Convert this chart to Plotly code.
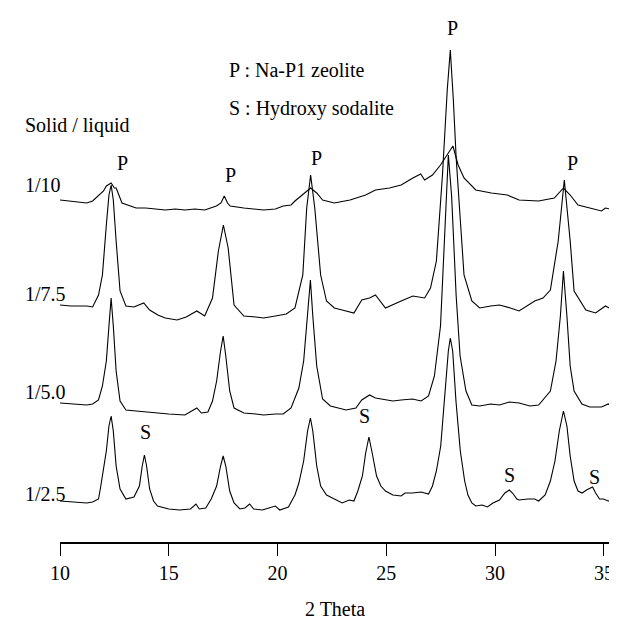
import plotly.graph_objects as go

# ---- data (2 Theta, intensity a.u. above each pattern's own baseline) ----
x_110 = [10.0, 10.5, 11.0, 11.23, 11.5, 11.77, 12.0, 12.13, 12.35, 12.5, 12.58, 12.85, 13.22, 13.5, 13.94, 14.3,
         14.84, 15.3, 15.74, 16.2, 16.65, 17.19, 17.4, 17.55, 17.7, 17.82, 18.45, 19.36, 19.9, 20.26, 20.62, 20.8,
         21.25, 21.52, 21.8, 22.07, 22.61, 23.33, 24.05, 24.5, 25.14, 25.68, 26.22, 26.58, 26.76, 27.12, 27.49,
         27.76, 28.06, 28.3, 28.57, 29.11, 29.83, 30.56, 31.1, 32.0, 32.72, 33.14, 33.45, 33.81, 34.35, 34.89,
         35.07, 35.52]
y_110 = [13, 12, 11, 10, 12, 17, 22, 27, 30, 25, 25, 10, 7, 5, 5, 4,
         3, 4, 3, 4, 3, 7, 10, 17, 10, 7, 5, 3, 4, 7, 8, 12,
         20, 25, 20, 13, 10, 13, 18, 23, 25, 28, 35, 39, 33, 38, 48,
         57, 67, 48, 35, 23, 20, 18, 13, 12, 15, 25, 18, 8, 5, 2,
         5, 3]

x_175 = [10.0, 10.5, 11.23, 11.5, 11.77, 11.95, 12.13, 12.25, 12.35, 12.45, 12.58, 12.76, 13.03, 13.4, 13.85, 14.12,
         14.5, 14.84, 15.38, 15.8, 16.29, 16.65, 17.01, 17.28, 17.51, 17.73, 18.0, 18.45, 19.0, 19.36, 19.9, 20.4,
         20.8, 21.16, 21.34, 21.52, 21.71, 21.98, 22.25, 22.61, 22.97, 23.51, 23.87, 24.23, 24.5, 24.96, 25.68,
         26.22, 26.76, 27.03, 27.3, 27.58, 27.8, 27.94, 28.08, 28.21, 28.4, 28.57, 28.93, 29.29, 29.8, 30.2, 30.7,
         31.1, 31.82, 32.2, 32.54, 32.9, 33.18, 33.45, 33.63, 34.0, 34.17, 34.62, 35.07, 35.52]
y_175 = [15, 14, 14, 13, 25, 45, 95, 125, 135, 120, 79, 29, 14, 13, 17, 10,
         5, 2, 0, 3, 9, 4, 22, 69, 95, 72, 15, 4, 3, 2, 4, 6,
         12, 45, 112, 145, 112, 45, 19, 12, 10, 7, 20, 22, 25, 12, 19,
         24, 22, 32, 59, 145, 230, 270, 220, 162, 100, 45, 19, 12, 14, 15, 12,
         9, 19, 22, 30, 79, 140, 79, 29, 15, 10, 7, 14, 9]

x_150 = [10.0, 10.5, 11.0, 11.23, 11.5, 11.77, 11.95, 12.13, 12.25, 12.35, 12.45, 12.58, 12.76, 13.03, 13.5, 13.94,
         14.5, 15.0, 15.74, 16.29, 16.5, 16.8, 17.01, 17.2, 17.38, 17.5, 17.62, 17.8, 18.0, 18.45, 19.0, 19.36,
         19.9, 20.26, 20.62, 20.98, 21.2, 21.38, 21.51, 21.62, 21.8, 22.07, 22.43, 23.15, 23.6, 23.87, 24.23,
         24.5, 24.96, 25.3, 25.68, 26.2, 26.6, 26.94, 27.21, 27.49, 27.7, 27.85, 28.0, 28.21, 28.39, 28.66, 28.93,
         29.29, 29.8, 30.2, 30.65, 31.1, 31.6, 32.0, 32.54, 32.8, 33.0, 33.14, 33.3, 33.45, 33.63, 33.99, 34.35,
         34.89, 35.2, 35.52]
y_150 = [13, 12, 11, 11, 12, 16, 30, 55, 90, 118, 90, 45, 15, 6, 5, 4,
         3, 2, 1, 8, 3, 4, 15, 35, 65, 80, 60, 25, 8, 3, 2, 1,
         2, 2, 8, 28, 55, 100, 136, 100, 50, 17, 10, 6, 8, 16, 21,
         18, 16, 15, 16, 17, 15, 20, 40, 90, 190, 261, 220, 120, 60, 25, 11,
         10, 12, 11, 14, 13, 10, 11, 25, 55, 100, 145, 100, 50, 25, 12, 9,
         9, 12, 7]

x_125 = [10.0, 10.6, 11.23, 11.5, 11.77, 11.86, 11.95, 12.13, 12.25, 12.35, 12.45, 12.58, 12.76, 13.03, 13.4, 13.65,
         13.78, 13.88, 13.98, 14.12, 14.3, 14.48, 15.0, 15.5, 16.0, 16.25, 16.4, 16.7, 16.95, 17.2, 17.38, 17.5,
         17.62, 17.8, 18.0, 18.27, 18.5, 18.72, 18.9, 19.3, 19.6, 19.9, 20.1, 20.5, 20.8, 20.98, 21.2, 21.38,
         21.51, 21.62, 21.8, 21.98, 22.25, 22.6, 22.97, 23.3, 23.51, 23.69, 23.9, 24.05, 24.2, 24.35, 24.55,
         24.75, 24.96, 25.3, 25.68, 25.86, 26.2, 26.6, 26.94, 27.12, 27.3, 27.5, 27.7, 27.85, 27.94, 28.05, 28.2,
         28.4, 28.6, 28.75, 28.93, 29.11, 29.4, 29.65, 29.9, 30.2, 30.45, 30.65, 30.8, 31.0, 31.1, 31.5, 31.82,
         32.0, 32.3, 32.54, 32.75, 32.95, 33.14, 33.3, 33.45, 33.63, 33.81, 34.0, 34.2, 34.48, 34.62, 34.8,
         34.98, 35.2, 35.52]
y_125 = [10, 9, 8, 9, 12, 23, 35, 60, 85, 95, 80, 45, 22, 12, 14, 25,
         45, 56, 45, 22, 10, 5, 2, 1, 2, 7, 2, 3, 12, 25, 45, 55,
         45, 20, 8, 2, 3, 7, 2, 1, 3, 5, 1, 4, 16, 28, 50, 80,
         93, 80, 45, 25, 16, 12, 8, 11, 10, 20, 35, 58, 74, 58, 35,
         25, 20, 16, 15, 18, 18, 19, 17, 25, 40, 65, 120, 160, 173, 160, 110,
         60, 30, 16, 8, 5, 6, 4, 8, 11, 18, 21, 18, 12, 11, 12, 12,
         10, 16, 30, 50, 80, 100, 85, 55, 30, 20, 18, 21, 24, 18, 12,
         12, 10, 11]

series = [("1/10", x_110, y_110), ("1/7.5", x_175, y_175), ("1/5.0", x_150, y_150), ("1/2.5", x_125, y_125)]

tick_vals = [10, 15, 20, 25, 30, 35]
tick_text = ["10", "15", "20", "25", "30", "35"]

peak_P = [12.85, 17.82, 21.8, 28.03, 33.54]
peak_S = [13.94, 24.0, 30.68, 34.58]

# ---- layout / style ----
offsets = {"1/10": 329, "1/7.5": 222, "1/5.0": 126, "1/2.5": 31}
label_y = {"1/10": 357, "1/7.5": 248, "1/5.0": 150, "1/2.5": 48}
P_y = [379, 367, 384, 514, 379]
S_y = [110, 126, 67, 65]
FONT = "Liberation Serif, Times New Roman, serif"

fig = go.Figure()
for name, xs, ys in series:
    off = offsets[name]
    fig.add_trace(go.Scatter(x=xs, y=[v + off for v in ys], mode="lines",
                             line=dict(color="black", width=1.1), name=name,
                             showlegend=False, hoverinfo="skip"))

ann = []
x_left = -0.064  # paper units (left of the plot area)
ann.append(dict(x=x_left, y=417, xref="paper", text="Solid / liquid", xanchor="left", yanchor="middle"))
for name, _, _ in series:
    ann.append(dict(x=x_left, y=label_y[name], xref="paper", text=name, xanchor="left", yanchor="middle"))
ann.append(dict(x=17.72, y=472, text="P : Na-P1 zeolite", xanchor="left", yanchor="middle"))
ann.append(dict(x=17.72, y=434, text="S : Hydroxy sodalite", xanchor="left", yanchor="middle"))
for px, py in zip(peak_P, P_y):
    ann.append(dict(x=px, y=py, text="P", xanchor="center", yanchor="middle"))
for sx, sy in zip(peak_S, S_y):
    ann.append(dict(x=sx, y=sy, text="S", xanchor="center", yanchor="middle"))
ann.append(dict(x=0.487, y=-0.126, xref="paper", yref="paper", text="2 Theta",
                xanchor="center", yanchor="middle"))
for a in ann:
    a.setdefault("xref", "x")
    a.setdefault("yref", "y")
    a["showarrow"] = False
    a["borderpad"] = 0
    a["font"] = dict(family=FONT, size=20, color="black")

fig.update_layout(
    width=617, height=621,
    margin=dict(l=52, r=0, t=0, b=87, pad=0),
    paper_bgcolor="white", plot_bgcolor="white",
    annotations=ann,
    xaxis=dict(range=[10, 35.97], tickvals=tick_vals, ticktext=tick_text,
               showline=True, linecolor="black", linewidth=1.5,
               ticks="outside", ticklen=12, tickwidth=1.2, tickcolor="black",
               showgrid=False, zeroline=False,
               tickfont=dict(family=FONT, size=20, color="black")),
    yaxis=dict(range=[0, 534], visible=False, showgrid=False, zeroline=False),
)

fig.write_html("out.html")
